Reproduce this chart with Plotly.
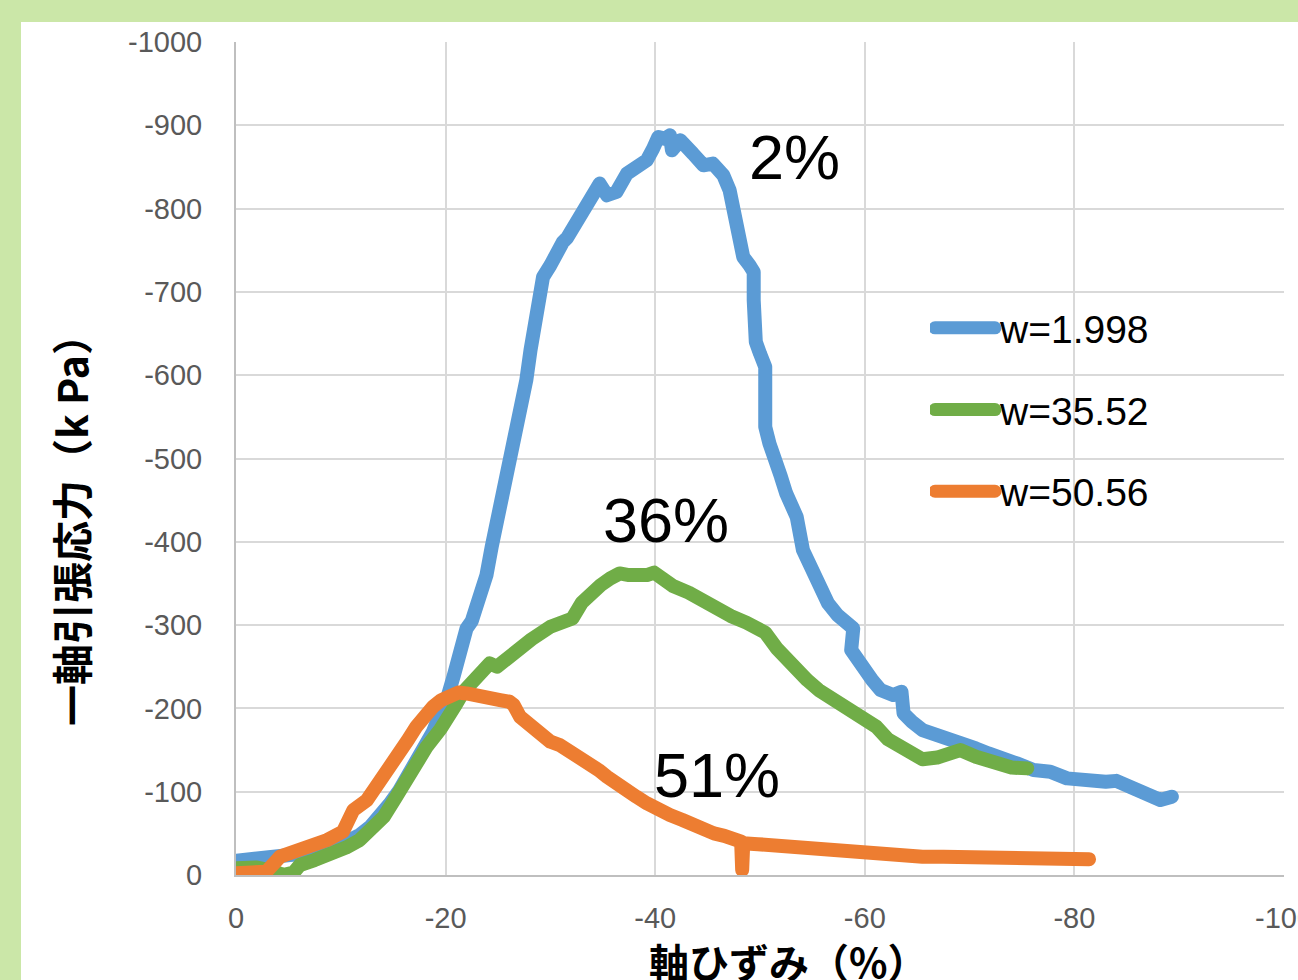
import plotly.graph_objects as go

# ---- data (axial strain %, uniaxial tensile stress kPa) ----
series_names = ["w=1.998", "w=35.52", "w=50.56"]
series_colors = ["#5b9bd5", "#70ad47", "#ed7d31"]

blue_x = [0, -2, -4.2, -6, -8, -9.3, -10.5, -11.8, -12.8, -13.7, -14.7, -15.6, -16.4, -17.2, -18, -18.8,
          -19.5, -20.1, -20.8, -21.4, -22.0, -22.5, -23.2, -23.9, -24.4, -25.0, -25.4, -25.8, -26.3, -26.8,
          -27.3, -27.7, -28.1, -28.5, -28.9, -29.3, -30.0, -30.6, -31.2, -31.6, -32.5, -33.5, -34.7, -35.4,
          -36.3, -37.3, -38.2, -39.2, -39.8, -40.3, -40.9, -41.4, -41.6, -42.0, -42.4, -43.6, -44.6, -45.5,
          -46.5, -47.1, -47.5, -47.9, -48.4, -49.0, -49.4, -49.4, -49.4, -49.6, -50.0, -50.5, -50.5, -50.5,
          -50.9, -51.3, -52.0, -52.5, -53.5, -54.1, -54.5, -55.1, -56.0, -56.5, -57.4, -58.2, -58.9, -58.7,
          -59.2, -60.0, -60.7, -61.5, -62.7, -63.5, -63.7, -64.5, -65.5, -66.9, -68.0, -69.4, -70.6, -71.8,
          -72.9, -74.5, -76.1, -77.7, -79.3, -80.5, -81.8, -83.0, -84.0, -85.0, -85.6, -86.9, -88.2, -89.3]
blue_y = [-17, -19, -22, -25, -28, -32, -38, -48, -58, -70, -86, -102, -118, -134, -152, -172,
          -194, -210, -240, -270, -296, -305, -330, -360, -394, -430, -445, -460, -498, -534,
          -565, -594, -630, -662, -690, -718, -732, -750, -760, -765, -782, -806, -830, -816,
          -820, -842, -850, -858, -872, -886, -884, -888, -870, -880, -882, -866, -852, -854,
          -840, -822, -798, -762, -742, -732, -724, -690, -650, -640, -626, -610, -570, -538,
          -518, -498, -478, -458, -430, -390, -378, -358, -338, -326, -312, -302, -296, -270,
          -260, -246, -234, -222, -216, -220, -194, -184, -174, -168, -162, -156, -152, -146,
          -142, -134, -126, -124, -116, -114, -112, -112, -113, -108, -106, -96, -90, -94]

green_x = [0, -2, -3.5, -4.5, -5.5, -6.1, -7.5, -9.3, -10.5, -11.8, -13, -14.1, -15.2, -16.3, -17.2,
           -18.2, -19.5, -20.3, -21.0, -21.7, -22.4, -23.0, -24.2, -24.9, -26.0, -26.8, -28.2, -30.0,
           -31.1, -32.1, -33.0, -34.1, -34.8, -35.7, -36.6, -37.5, -38.4, -39.2, -39.9, -40.6, -41.7,
           -43.2, -44.0, -45.0, -46.0, -47.2, -48.7, -49.5, -50.5, -51.6, -52.3, -53.1, -54.5, -55.6,
           -57.1, -58.5, -59.6, -61.1, -62.2, -63.0, -64.0, -65.5, -66.9, -68.0, -69.1, -70.6, -72.4,
           -74.0, -75.5]
green_y = [-8, -9, -5, 0, -3, -12, -18, -26, -33, -42, -55, -70, -92, -118, -136,
           -154, -175, -195, -205, -220, -230, -242, -254, -250, -262, -271, -283, -298,
           -303, -308, -327, -343, -348, -356, -362, -360, -359, -360, -363, -355, -347,
           -339, -333, -323, -316, -311, -303, -298, -291, -272, -262, -250, -234, -222,
           -210, -198, -186, -178, -163, -157, -150, -139, -141, -146, -150, -142, -134,
           -129, -128]

orange_x = [0, -2.9, -4.2, -6.1, -7.5, -8.7, -10.2, -10.8, -11.2, -12.5, -13.9, -14.8, -15.6, -16.4,
            -17.2, -18.0, -18.8, -19.6, -20.4, -21.2, -22.0, -23.6, -25.2, -26.1, -26.5, -27.1, -28.4,
            -30.0, -30.9, -32.0, -33.0, -34.6, -35.4, -36.2, -37.2, -38.2, -39.2, -40.2, -41.4, -42.6,
            -43.6, -44.6, -45.6, -46.6, -47.6, -48.2, -48.3, -48.4, -49.8, -51.5, -53.4, -55.5, -57.5,
            -59.5, -61.5, -63.5, -65.5, -67.5, -69.5, -71.5, -73.5, -75.5, -77.6, -79.5, -81.4]
orange_y = [-2, -4, -22, -30, -36, -42, -52, -66, -78, -90, -114, -130, -146, -162,
            -178, -192, -202, -210, -216, -219, -218, -212, -210, -208, -204, -190, -176,
            -160, -156, -148, -142, -126, -118, -110, -102, -94, -86, -78, -72, -66,
            -60, -55, -50, -47, -42, -40, -6, -38, -37, -35, -34, -32, -30,
            -28, -26, -24, -22, -22, -21, -21, -20, -20, -20, -19, -19]

label_texts = ["2%", "36%", "51%"]
label_x = [-53.3, -41.0, -45.9]
label_y = [-862, -426, -120]

x_tickvals = [0, -20, -40, -60, -80, -100]
y_tickvals = [0, -100, -200, -300, -400, -500, -600, -700, -800, -900, -1000]

W, H = 1298, 980
L, R, T, B = 236, 14, 42, 105
pw, ph = W - L - R, H - T - B

fig = go.Figure()
for i, (xs, ys) in enumerate([(blue_x, blue_y), (green_x, green_y), (orange_x, orange_y)]):
    fig.add_trace(go.Scatter(
        x=xs, y=ys, mode="lines", name=series_names[i], legendgroup=f"g{i}",
        line=dict(color=series_colors[i], width=14, shape="linear"),
    ))

for t, xv, yv in zip(label_texts, label_x, label_y):
    fig.add_annotation(x=xv, y=yv, text=t, showarrow=False, xref="x", yref="y",
                       xanchor="center", yanchor="middle",
                       font=dict(family="Liberation Sans, Arial", size=63, color="#000000"))

# axis titles
fig.add_annotation(x=(70 - L) / pw, y=(H - B - 520) / ph, xref="paper", yref="paper",
                   xanchor="center", yanchor="middle",
                   text="<b>一軸引張応力（k Pa）</b>", textangle=-90, showarrow=False,
                   font=dict(family="Noto Sans CJK JP", size=41, color="#000000"))
fig.add_annotation(x=(788 - L) / pw, y=(H - B - 961) / ph, xref="paper", yref="paper",
                   xanchor="center", yanchor="middle",
                   text="<b>軸ひずみ（%）</b>", showarrow=False,
                   font=dict(family="Noto Sans CJK JP", size=40, color="#000000"))

# green page border (top and left bands)
green = "#cbe7a8"
fig.add_shape(type="rect", xref="paper", yref="paper", x0=-L / pw - 0.01, x1=(21 - L) / pw,
              y0=-0.2, y1=1.2, fillcolor=green, line=dict(width=0), layer="above")
fig.add_shape(type="rect", xref="paper", yref="paper", x0=-0.3, x1=1.1,
              y0=(H - B - 22) / ph, y1=(H - B) / ph + 0.01, fillcolor=green, line=dict(width=0),
              layer="above")

tickfont = dict(family="Liberation Sans, Arial", size=29, color="#595959")
fig.update_xaxes(range=[0, -100], tickvals=x_tickvals, ticktext=[str(v) for v in x_tickvals],
                 showgrid=True, gridcolor="#d9d9d9", gridwidth=2, zeroline=False,
                 showline=True, linecolor="#bfbfbf", linewidth=2, ticks="",
                 tickfont=tickfont, ticklabelstandoff=16, ticklabeloverflow="allow",
                 automargin=False)
fig.update_yaxes(range=[0, -1000], tickvals=y_tickvals, ticktext=[str(v) for v in y_tickvals],
                 showgrid=True, gridcolor="#d9d9d9", gridwidth=2, zeroline=False,
                 showline=True, linecolor="#bfbfbf", linewidth=2, ticks="",
                 tickfont=tickfont, ticklabelstandoff=26, automargin=False)

fig.update_layout(
    width=W, height=H, autosize=False,
    margin=dict(l=L, r=R, t=T, b=B, autoexpand=False),
    paper_bgcolor="#ffffff", plot_bgcolor="#ffffff",
    showlegend=True,
    legend=dict(x=(930 - L) / pw, y=(H - B - 296) / ph, xanchor="left", yanchor="top",
                bgcolor="rgba(0,0,0,0)", borderwidth=0, tracegroupgap=28, itemwidth=60,
                font=dict(family="Liberation Sans, Arial", size=39, color="#000000")),
)

post = (
    "document.body.style.margin='0px';document.body.style.overflow='hidden';"
    "document.querySelectorAll('path.js-line').forEach(function(p){"
    "p.style.strokeLinejoin='round';p.style.strokeLinecap='round';});"
    "document.querySelectorAll('.legendlines path').forEach(function(p){"
    "p.style.strokeWidth='13px';});"
)
fig.write_html("out.html", config={"displayModeBar": False}, post_script=post)
